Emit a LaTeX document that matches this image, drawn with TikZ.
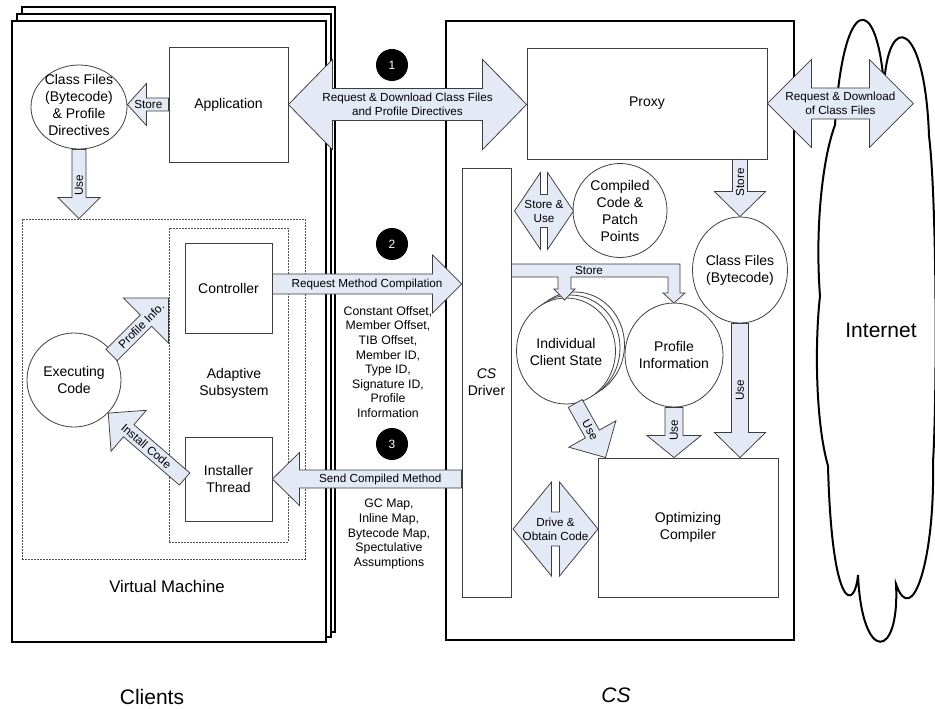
\documentclass[tikz,border=0pt]{standalone}
\usepackage{fontspec}
\setmainfont{Liberation Sans}
\usetikzlibrary{calc,shapes.geometric}
\definecolor{arrowfill}{RGB}{227,233,245}
\definecolor{arrowline}{RGB}{60,60,60}
\definecolor{boxline}{RGB}{64,64,64}
\definecolor{dotline}{RGB}{80,80,80}

% block arrow: from, to, shaft half, head half, head length, label, label pos, label flip
\newcommand\barrow[8]{%
  \path[blk] let \p1=(#1), \p2=(#2),
    \n1={atan2(\y2-\y1,\x2-\x1)}, \n2={veclen(\x2-\x1,\y2-\y1)} in
    {[shift={(\p1)}, rotate=\n1]
      (0,-#3) -- ({\n2-#5},-#3) -- ({\n2-#5},-#4) -- (\n2,0)
      -- ({\n2-#5},#4) -- ({\n2-#5},#3) -- (0,#3) -- cycle
      node[albl, rotate={\n1+#8}] at ({#7*\n2},0) {#6}};%
}
% double block arrow: from, to, shaft half, head half, head length, label
\newcommand\dblarrow[6]{%
  \path[blk] let \p1=(#1), \p2=(#2),
    \n1={atan2(\y2-\y1,\x2-\x1)}, \n2={veclen(\x2-\x1,\y2-\y1)} in
    {[shift={(\p1)}, rotate=\n1]
      (0,0) -- (#5,-#4) -- (#5,-#3) -- ({\n2-#5},-#3) -- ({\n2-#5},-#4) -- (\n2,0)
      -- ({\n2-#5},#4) -- ({\n2-#5},#3) -- (#5,#3) -- (#5,#4) -- cycle
      node[albl, rotate=\n1] at ({0.5*\n2},0) {#6}};%
}
% vertical slotted double arrow: center, half length, half width, slot half, slot depth, label
\newcommand\slotarrow[6]{%
  \path[blk] (#1) ++(-#4,-#2) -- ++(0,#5) -- ++({2*#4},0) -- ++(0,-#5)
    -- ++({#3-#4},#2) -- ++({#4-#3},#2) -- ++(0,-#5) -- ++({-2*#4},0)
    -- ++(0,#5) -- ++({#4-#3},-#2) -- cycle;
  \node[albl] at (#1) {#6};%
}

\begin{document}
\begin{tikzpicture}[x=1pt,y=-1pt,
  blk/.style={fill=arrowfill, draw=arrowline, line width=0.75pt, line join=miter},
  albl/.style={font=\fontsize{11.7}{14}\selectfont, align=center, inner sep=0pt},
  box/.style={draw=boxline, line width=0.8pt, fill=white, inner sep=0pt, align=center,
              font=\fontsize{14}{17}\selectfont},
  ell/.style={ellipse, draw=boxline, line width=0.8pt, fill=white, inner sep=0pt},
  txt/.style={align=center, inner sep=0pt, font=\fontsize{14}{17}\selectfont},
  lst/.style={align=center, inner sep=0pt, font=\fontsize{12.3}{14.6}\selectfont},
  big/.style={inner sep=0pt, font=\fontsize{21}{25}\selectfont},
  dotbox/.style={draw=dotline, line width=0.8pt, dash pattern=on 1.6pt off 1.4pt, inner sep=0pt},
  stk/.style={draw=black, fill=white, line width=2pt},
  numc/.style={circle, fill=black, minimum size=32pt, inner sep=0pt, text=white,
               font=\fontsize{12}{14}\selectfont},
  cloudline/.style={draw=black, fill=white, line width=2pt}
]
\useasboundingbox (0,0) rectangle (935,709);

% ---------- containers ----------
\draw[stk] (22,7) rectangle (335,632);
\draw[stk] (17,14) rectangle (331,637);
\draw[stk] (12,21) rectangle (326,642);
\draw[stk, line width=2.5pt] (446,21) rectangle (794,640);

% cloud
\draw[cloudline] (835,125) .. controls (843,-8) and (877,-8) .. (884,86)
  .. controls (888,10) and (925,20) .. (929,136)
  .. controls (937,200) and (937,400) .. (933,462)
  .. controls (935,560) and (912,630) .. (896,584)
  .. controls (900,660) and (862,665) .. (858,575)
  .. controls (855,610) and (832,615) .. (828,466)
  .. controls (815,420) and (815,340) .. (820,296)
  .. controls (815,230) and (822,160) .. cycle;
\node[big] (inet) at (881,330) {Internet};

% dotted subsystems
\node[dotbox, minimum width=283pt, minimum height=340pt] (outer) at (163.5,389) {};
\node[dotbox, minimum width=119pt, minimum height=314pt] (adapt) at (228.5,385) {};
\node[txt] (adaptt) at (234,383) {Adaptive\\Subsystem};

% ---------- client nodes ----------
\node[box, minimum width=119pt, minimum height=115pt] (app) at (228.5,104.5) {Application};
\node[ell, minimum width=96pt, minimum height=84pt] (cf1) at (79,107) {};
\node[txt] (cf1t) at (79,104.5) {Class Files\\(Bytecode)\\\& Profile\\Directives};
\node[box, minimum width=87pt, minimum height=90pt] (ctrl) at (228.5,288) {Controller};
\node[box, minimum width=87pt, minimum height=84pt] (inst) at (228.5,479) {Installer\\Thread};
\node[ell, minimum width=94pt, minimum height=94pt] (exec) at (74,380) {};
\node[txt] (exect) at (74,380) {Executing\\Code};
\node[txt, font=\fontsize{16.8}{20}\selectfont] (vm) at (167,586) {Virtual Machine};
\node[big] (clients) at (152,697) {Clients};

% ---------- CS nodes ----------
\node[box, minimum width=240pt, minimum height=111pt] (proxy) at (647,103.5) {Proxy};
\node[box, minimum width=49pt, minimum height=429pt] (drv) at (486.5,382.5) {\textit{CS}\\Driver};
\node[ell, minimum width=94pt, minimum height=94pt] (ccp) at (620,210.5) {};
\node[txt] (ccpt) at (620,210.5) {Compiled\\Code \&\\Patch\\Points};
\node[ell, minimum width=95pt, minimum height=106pt] (cf2) at (740,270) {};
\node[txt] (cf2t) at (740,270) {Class Files\\(Bytecode)};
\node[ell, minimum width=99pt, minimum height=106pt] (icsb) at (575,345) {};
\node[ell, minimum width=99pt, minimum height=106pt] (icsm) at (570.5,348) {};
\node[ell, minimum width=99pt, minimum height=106pt] (ics) at (566,351) {};
\node[txt] (icst) at (566,352) {Individual\\Client State};
\node[ell, minimum width=98pt, minimum height=104pt] (pinf) at (674,355) {};
\node[txt] (pinft) at (674,355) {Profile\\Information};
\node[box, minimum width=180pt, minimum height=139pt] (opt) at (688,527.5) {Optimizing\\Compiler};
\node[big] (cs) at (616,695) {\textit{CS}};

% ---------- arrow end points ----------
\coordinate (st1e) at (cf1.east |- app.west);
\coordinate (use1e) at (cf1.south |- outer.north);
\coordinate (pie) at (adapt.west |- 0,298);
\coordinate (pis) at ($(pie)+(-57,57)$);
\coordinate (ice) at (exec.-44);
\coordinate (rmcs) at ($(ctrl.east)+(0,-4)$);
\coordinate (rmce) at (drv.west |- rmcs);
\coordinate (scms) at (drv.west |- inst.east);
\coordinate (rdle) at (proxy.west |- app.east);
\coordinate (rdre) at ($(proxy.east)+(146,0)$);
\coordinate (st2s) at (cf2.north |- proxy.south);
\coordinate (use2e) at (cf2.south |- opt.north);
\coordinate (use3e) at (pinf.south |- opt.north);
\coordinate (use4s) at (ics.-80);
\coordinate (use4e) at ($(opt.north west)+(8,0)$);
\coordinate (sucen) at (544,211);
\coordinate (docen) at (555.5,529);

% ---------- client arrows ----------
\barrow{app.west}{st1e}{6.5}{21}{19}{Store}{0.49}{180}
\barrow{cf1.south}{use1e}{7}{21}{21}{Use}{0.52}{180}
\barrow{pis}{pie}{8}{32}{32}{Profile Info.}{0.52}{0}
\barrow{inst.west}{ice}{8}{27}{27}{Install Code}{0.5}{180}

% ---------- middle arrows ----------
\dblarrow{app.east}{rdle}{16}{45}{44}{Request \& Download Class Files\\and Profile Directives}
\barrow{rmcs}{rmce}{10}{29}{29}{Request Method Compilation}{0.5}{0}
\barrow{scms}{inst.east}{9}{26.5}{27}{Send Compiled Method}{0.43}{180}

% ---------- CS arrows ----------
\dblarrow{proxy.east}{rdre}{15.5}{44}{44}{Request \& Download\\of Class Files}
\barrow{st2s}{cf2.north}{7.5}{25.5}{25}{Store}{0.4}{180}
\barrow{cf2.south}{use2e}{8.5}{25.5}{25}{Use}{0.5}{180}
\barrow{pinf.south}{use3e}{9}{27}{22}{Use}{0.46}{180}
\barrow{use4s}{use4e}{8}{27}{27}{Use}{0.49}{0}
\path[blk] (drv.east |- 0,264) -- (680,264) -- (680,293) -- (685,293) -- (674,303)
  -- (663,293) -- (668,293) -- (668,277) -- (571,277) -- (571,289) -- (575,289)
  -- (564.5,300) -- (554,289) -- (558,289) -- (558,277) -- (drv.east |- 0,277) -- cycle;
\node[albl] (storelbl) at (589,270.5) {Store};
\slotarrow{sucen}{38.5}{29.5}{3.5}{22}{Store \&\\Use}
\slotarrow{docen}{47}{42.5}{4}{30}{Drive \&\\Obtain Code}

% ---------- numbers and payload lists ----------
\node[numc] (n1) at (392,65) {1};
\node[numc] (n2) at (392,244) {2};
\node[numc] (n3) at (392,444) {3};
\node[lst] (list1) at (388,362) {Constant Offset,\\Member Offset,\\TIB Offset,\\Member ID,\\Type ID,\\Signature ID,\\Profile\\Information};
\node[lst] (list2) at (389,534) {GC Map,\\Inline Map,\\Bytecode Map,\\Spectulative\\Assumptions};
\end{tikzpicture}
\end{document}
